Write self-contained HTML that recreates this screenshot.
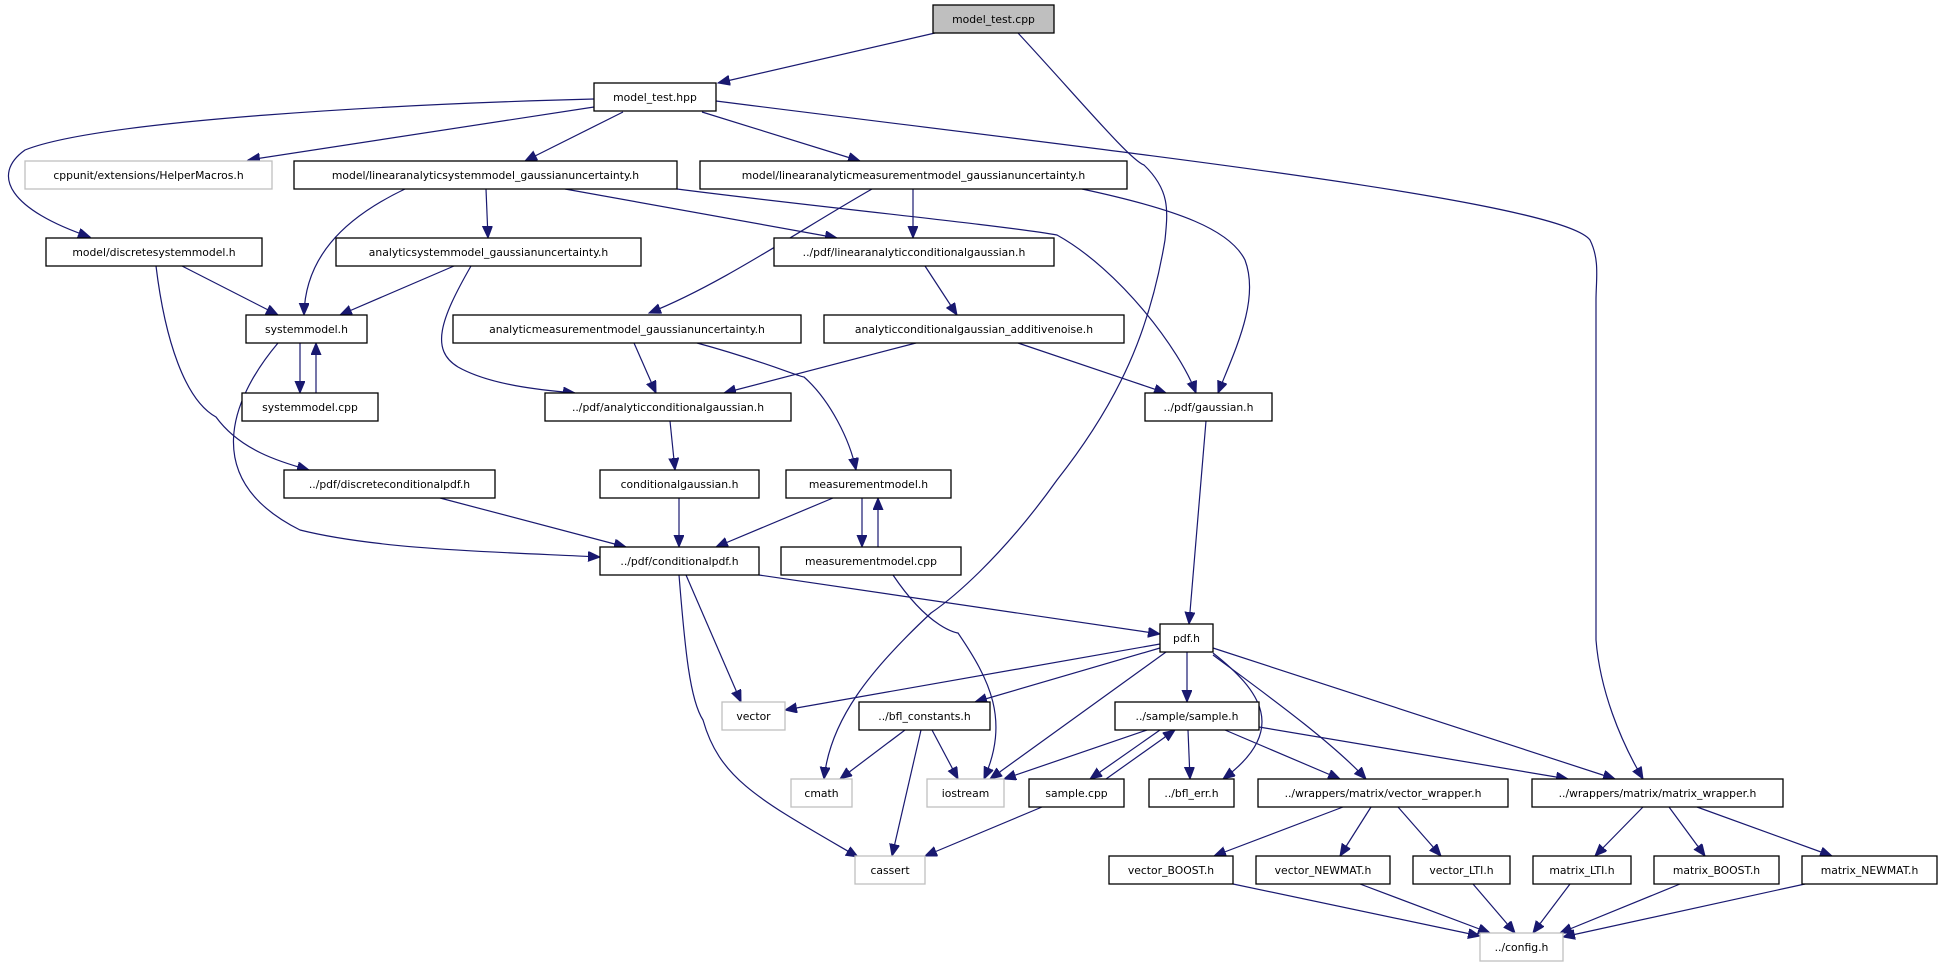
<!DOCTYPE html>
<html><head><meta charset="utf-8"><style>
html,body{margin:0;padding:0;background:#fff;}
svg{display:block;}
text{font-family:"DejaVu Sans","Liberation Sans",sans-serif;font-size:10.8px;fill:#000;text-anchor:middle;}
.n{fill:#fff;stroke:#000;stroke-width:1.3;}
.g{fill:#fff;stroke:#bfbfbf;stroke-width:1.3;}
.r{fill:#bfbfbf;stroke:#000;stroke-width:1.3;}
path.e{fill:none;stroke:#191970;stroke-width:1.2;marker-end:url(#a);}
</style></head><body>
<svg width="1942" height="968" viewBox="0 0 1942 968" xmlns="http://www.w3.org/2000/svg">
<defs><marker id="a" markerUnits="userSpaceOnUse" markerWidth="14" markerHeight="12" refX="12" refY="5" orient="auto"><path d="M0,0 L12,5 L0,10 Z" fill="#191970" stroke="#191970"/></marker></defs>
<g>
<path class="e" d="M935,33 L718,83"/>
<path class="e" d="M1018,33 C1080,100 1130,160 1144,165 C1170,190 1168,210 1165,240 C1150,330 1120,400 1057,480 C1000,560 950,600 931,613 C870,670 830,720 824,779"/>
<path class="e" d="M594,107 L248,160"/>
<path class="e" d="M594,99 C400,104 100,120 25,150 C-10,175 10,210 90,237"/>
<path class="e" d="M623,112 L525,161"/>
<path class="e" d="M702,112 L860,161"/>
<path class="e" d="M716,101 C1100,150 1560,200 1590,240 C1600,260 1596,280 1596,300 L1596,640 C1600,690 1620,740 1643,779"/>
<path class="e" d="M486,189 L488,238"/>
<path class="e" d="M405,189 C340,220 305,260 304,315"/>
<path class="e" d="M565,189 L837,238"/>
<path class="e" d="M677,189 C800,205 1000,225 1057,235 C1120,270 1180,350 1196,393"/>
<path class="e" d="M913,189 L913,238"/>
<path class="e" d="M872,189 C800,230 720,285 649,313"/>
<path class="e" d="M1082,189 C1180,210 1230,230 1245,260 C1260,300 1235,350 1218,393"/>
<path class="e" d="M182,266 L278,315"/>
<path class="e" d="M156,266 C165,340 185,400 216,417 C240,450 280,462 309,470"/>
<path class="e" d="M454,266 L340,315"/>
<path class="e" d="M471,266 C440,320 430,350 458,367 C490,385 540,390 575,393"/>
<path class="e" d="M925,266 L957,315"/>
<path class="e" d="M300,343 L300,393"/>
<path class="e" d="M316,393 L316,343"/>
<path class="e" d="M278,343 C230,400 200,480 300,530 C380,550 500,552 600,557"/>
<path class="e" d="M634,343 L656,393"/>
<path class="e" d="M697,343 C760,360 800,377 804,377 C830,400 850,440 856,470"/>
<path class="e" d="M916,343 L724,393"/>
<path class="e" d="M1018,343 L1166,393"/>
<path class="e" d="M670,421 L675,470"/>
<path class="e" d="M1206,421 L1189,624"/>
<path class="e" d="M440,498 L626,547"/>
<path class="e" d="M679,498 L679,547"/>
<path class="e" d="M833,498 L716,547"/>
<path class="e" d="M862,498 L862,547"/>
<path class="e" d="M878,547 L878,498"/>
<path class="e" d="M893,575 C930,630 958,633 958,633 C990,680 1010,720 984,779"/>
<path class="e" d="M759,575 L1160,634"/>
<path class="e" d="M686,575 L741,702"/>
<path class="e" d="M679,575 C685,650 690,700 703,720 C720,780 760,800 858,857"/>
<path class="e" d="M1160,644 L785,710"/>
<path class="e" d="M1160,648 L975,702"/>
<path class="e" d="M1166,652 L990,779"/>
<path class="e" d="M1187,652 L1187,702"/>
<path class="e" d="M1213,653 C1260,690 1290,730 1223,779"/>
<path class="e" d="M1213,655 C1260,690 1330,740 1366,779"/>
<path class="e" d="M1213,648 L1615,779"/>
<path class="e" d="M905,730 L840,779"/>
<path class="e" d="M932,730 L958,779"/>
<path class="e" d="M921,730 L892,856"/>
<path class="e" d="M1147,730 L1004,779"/>
<path class="e" d="M1160,730 L1090,779"/>
<path class="e" d="M1106,779 L1175,730"/>
<path class="e" d="M1188,730 L1190,779"/>
<path class="e" d="M1225,730 L1340,779"/>
<path class="e" d="M1259,727 L1568,779"/>
<path class="e" d="M1042,807 L925,856"/>
<path class="e" d="M1343,807 L1214,856"/>
<path class="e" d="M1371,807 L1340,856"/>
<path class="e" d="M1398,807 L1441,856"/>
<path class="e" d="M1643,807 L1595,856"/>
<path class="e" d="M1669,807 L1705,856"/>
<path class="e" d="M1697,807 L1832,856"/>
<path class="e" d="M1233,884 L1480,936"/>
<path class="e" d="M1360,884 L1490,933"/>
<path class="e" d="M1473,884 L1515,933"/>
<path class="e" d="M1570,884 L1533,933"/>
<path class="e" d="M1680,884 L1560,933"/>
<path class="e" d="M1805,884 L1563,937"/>
</g>
<g>
<rect class="r" x="933" y="5" width="121" height="28"/><text x="993.5" y="23">model_test.cpp</text>
<rect class="n" x="594" y="83" width="122" height="28"/><text x="655" y="101">model_test.hpp</text>
<rect class="g" x="25" y="161" width="247" height="28"/><text x="148.5" y="179">cppunit/extensions/HelperMacros.h</text>
<rect class="n" x="294" y="161" width="383" height="28"/><text x="485.5" y="179">model/linearanalyticsystemmodel_gaussianuncertainty.h</text>
<rect class="n" x="700" y="161" width="427" height="28"/><text x="913.5" y="179">model/linearanalyticmeasurementmodel_gaussianuncertainty.h</text>
<rect class="n" x="46" y="238" width="216" height="28"/><text x="154" y="256">model/discretesystemmodel.h</text>
<rect class="n" x="336" y="238" width="305" height="28"/><text x="488.5" y="256">analyticsystemmodel_gaussianuncertainty.h</text>
<rect class="n" x="774" y="238" width="280" height="28"/><text x="914" y="256">../pdf/linearanalyticconditionalgaussian.h</text>
<rect class="n" x="246" y="315" width="121" height="28"/><text x="306.5" y="333">systemmodel.h</text>
<rect class="n" x="453" y="315" width="348" height="28"/><text x="627" y="333">analyticmeasurementmodel_gaussianuncertainty.h</text>
<rect class="n" x="824" y="315" width="300" height="28"/><text x="974" y="333">analyticconditionalgaussian_additivenoise.h</text>
<rect class="n" x="242" y="393" width="136" height="28"/><text x="310" y="411">systemmodel.cpp</text>
<rect class="n" x="545" y="393" width="246" height="28"/><text x="668" y="411">../pdf/analyticconditionalgaussian.h</text>
<rect class="n" x="1145" y="393" width="127" height="28"/><text x="1208.5" y="411">../pdf/gaussian.h</text>
<rect class="n" x="284" y="470" width="211" height="28"/><text x="389.5" y="488">../pdf/discreteconditionalpdf.h</text>
<rect class="n" x="600" y="470" width="159" height="28"/><text x="679.5" y="488">conditionalgaussian.h</text>
<rect class="n" x="786" y="470" width="165" height="28"/><text x="868.5" y="488">measurementmodel.h</text>
<rect class="n" x="600" y="547" width="159" height="28"/><text x="679.5" y="565">../pdf/conditionalpdf.h</text>
<rect class="n" x="781" y="547" width="180" height="28"/><text x="871" y="565">measurementmodel.cpp</text>
<rect class="n" x="1160" y="624" width="53" height="28"/><text x="1186.5" y="642">pdf.h</text>
<rect class="g" x="722" y="702" width="63" height="28"/><text x="753.5" y="720">vector</text>
<rect class="n" x="859" y="702" width="131" height="28"/><text x="924.5" y="720">../bfl_constants.h</text>
<rect class="n" x="1115" y="702" width="144" height="28"/><text x="1187" y="720">../sample/sample.h</text>
<rect class="g" x="791" y="779" width="61" height="28"/><text x="821.5" y="797">cmath</text>
<rect class="g" x="927" y="779" width="77" height="28"/><text x="965.5" y="797">iostream</text>
<rect class="n" x="1029" y="779" width="95" height="28"/><text x="1076.5" y="797">sample.cpp</text>
<rect class="n" x="1149" y="779" width="85" height="28"/><text x="1191.5" y="797">../bfl_err.h</text>
<rect class="n" x="1258" y="779" width="250" height="28"/><text x="1383" y="797">../wrappers/matrix/vector_wrapper.h</text>
<rect class="n" x="1532" y="779" width="251" height="28"/><text x="1657.5" y="797">../wrappers/matrix/matrix_wrapper.h</text>
<rect class="g" x="855" y="856" width="70" height="28"/><text x="890" y="874">cassert</text>
<rect class="n" x="1109" y="856" width="124" height="28"/><text x="1171" y="874">vector_BOOST.h</text>
<rect class="n" x="1256" y="856" width="134" height="28"/><text x="1323" y="874">vector_NEWMAT.h</text>
<rect class="n" x="1413" y="856" width="97" height="28"/><text x="1461.5" y="874">vector_LTI.h</text>
<rect class="n" x="1533" y="856" width="98" height="28"/><text x="1582" y="874">matrix_LTI.h</text>
<rect class="n" x="1654" y="856" width="125" height="28"/><text x="1716.5" y="874">matrix_BOOST.h</text>
<rect class="n" x="1802" y="856" width="135" height="28"/><text x="1869.5" y="874">matrix_NEWMAT.h</text>
<rect class="g" x="1480" y="933" width="83" height="28"/><text x="1521.5" y="951">../config.h</text>
</g>
</svg>
</body></html>
